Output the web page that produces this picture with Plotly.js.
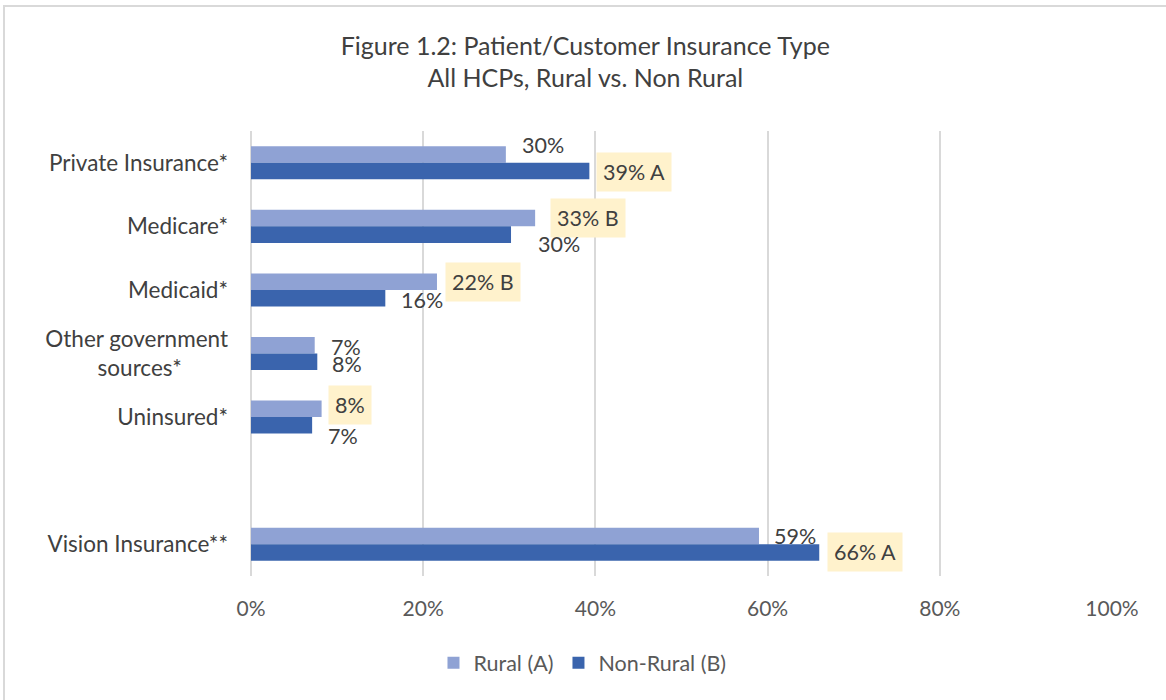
<!DOCTYPE html>
<html>
<head>
<meta charset="utf-8">
<script src="https://cdn.plot.ly/plotly-3.0.1.min.js"></script>
<style>
  body { margin: 0; background: #fff; overflow: hidden; }
  #chart { width: 1166px; height: 700px; }
  #frame { position: absolute; left: 3px; top: 5px; width: 1200px; height: 740px;
           border: 2px solid #d9d9d9; pointer-events: none; }
</style>
</head>
<body>
<div id="chart"></div>
<div id="frame"></div>
<script>
document.addEventListener("DOMContentLoaded", function () {

  const categories = ['Private Insurance*', 'Medicare*', 'Medicaid*',
    'Other government<br>sources*&nbsp;&nbsp;&nbsp;&nbsp;&nbsp;&nbsp;&nbsp;&nbsp;', 'Uninsured*', ' ', 'Vision Insurance**'];

  const rural    = [29.6, 33.0, 21.6, 7.4, 8.2, null, 59.0];
  const nonRural = [39.3, 30.2, 15.6, 7.7, 7.1, null, 66.0];

  // significance letters shown after the value, and which labels are highlighted
  const ruralSig    = ['', 'B', 'B', '', '', '', ''];
  const nonRuralSig = ['A', '', '', '', '', '', 'A'];
  const ruralHi     = [false, true, true, false, true, false, false];
  const nonRuralHi  = [true, false, false, false, false, false, true];

  // label nudges in pixels (x right, y down), like the hand-placed labels in the original
  const ruralDx = [15, 15, 8, 15, 6, 0, 14];
  const ruralDy = [-10, 0, 0, 1, -4, 0, 0];
  const nonDx   = [7, 26, 15, 14, 15, 0, 8];
  const nonDy   = [1, 10, 2, 2, 11, 0, 0];

  const lightBlue = '#8fa2d4';
  const darkBlue = '#3a64ad';
  const txt = '#404040';
  const font = 'Lato, "Open Sans", sans-serif';

  const data = [
    { y: categories, x: rural, type: 'bar', orientation: 'h', name: 'Rural (A)',
      marker: { color: lightBlue }, hoverinfo: 'x+y' },
    { y: categories, x: nonRural, type: 'bar', orientation: 'h', name: 'Non-Rural (B)',
      marker: { color: darkBlue }, hoverinfo: 'x+y' }
  ];

  function makeLabels(vals, sig, hi, dx, dy, base) {
    const out = [];
    vals.forEach(function (v, i) {
      if (v === null) return;
      const t = Math.round(v) + '%' + (sig[i] ? ' ' + sig[i] : '');
      out.push({
        x: v, y: categories[i], xref: 'x', yref: 'y',
        text: t, showarrow: false,
        xanchor: 'left', yanchor: 'middle',
        xshift: dx[i], yshift: -(base + dy[i]),
        font: { family: font, size: 21.5, color: txt },
        bgcolor: hi[i] ? '#fff2cc' : 'rgba(0,0,0,0)',
        borderpad: hi[i] ? 6 : 0
      });
    });
    return out;
  }

  const annotations = makeLabels(rural, ruralSig, ruralHi, ruralDx, ruralDy, -8)
    .concat(makeLabels(nonRural, nonRuralSig, nonRuralHi, nonDx, nonDy, 8));

  const layout = {
    width: 1166, height: 700,
    paper_bgcolor: '#fff', plot_bgcolor: '#fff',
    font: { family: font, color: txt },
    margin: { l: 251, r: 54, t: 131, b: 124 },
    title: {
      text: 'Figure 1.2: Patient/Customer Insurance Type<br>All HCPs, Rural vs. Non Rural',
      font: { family: font, size: 25, color: txt },
      x: 0.502, xanchor: 'center', y: 0.922, yanchor: 'top'
    },
    barmode: 'group',
    bargap: 0.48,
    bargroupgap: 0,
    xaxis: {
      range: [0, 100], dtick: 20, ticksuffix: '%',
      showgrid: true, gridcolor: '#d9d9d9', gridwidth: 2,
      zeroline: true, zerolinecolor: '#d9d9d9', zerolinewidth: 2,
      showline: false, ticks: '', ticklabelstandoff: 18,
      tickfont: { family: font, size: 21, color: '#595959' },
      fixedrange: true
    },
    yaxis: {
      type: 'category', categoryorder: 'array', categoryarray: categories,
      autorange: 'reversed', showgrid: false, zeroline: false, showline: false,
      ticks: '', ticklabelstandoff: 22,
      tickfont: { family: font, size: 22.5, color: txt },
      fixedrange: true
    },
    legend: {
      orientation: 'h', x: 0.385, xanchor: 'center', y: -0.195, yanchor: 'middle',
      font: { family: font, size: 21.5, color: '#595959' },
      traceorder: 'normal'
    },
    annotations: annotations,
    showlegend: true
  };

  Plotly.newPlot('chart', data, layout, { displayModeBar: false, staticPlot: true });

});
</script>
</body>
</html>
